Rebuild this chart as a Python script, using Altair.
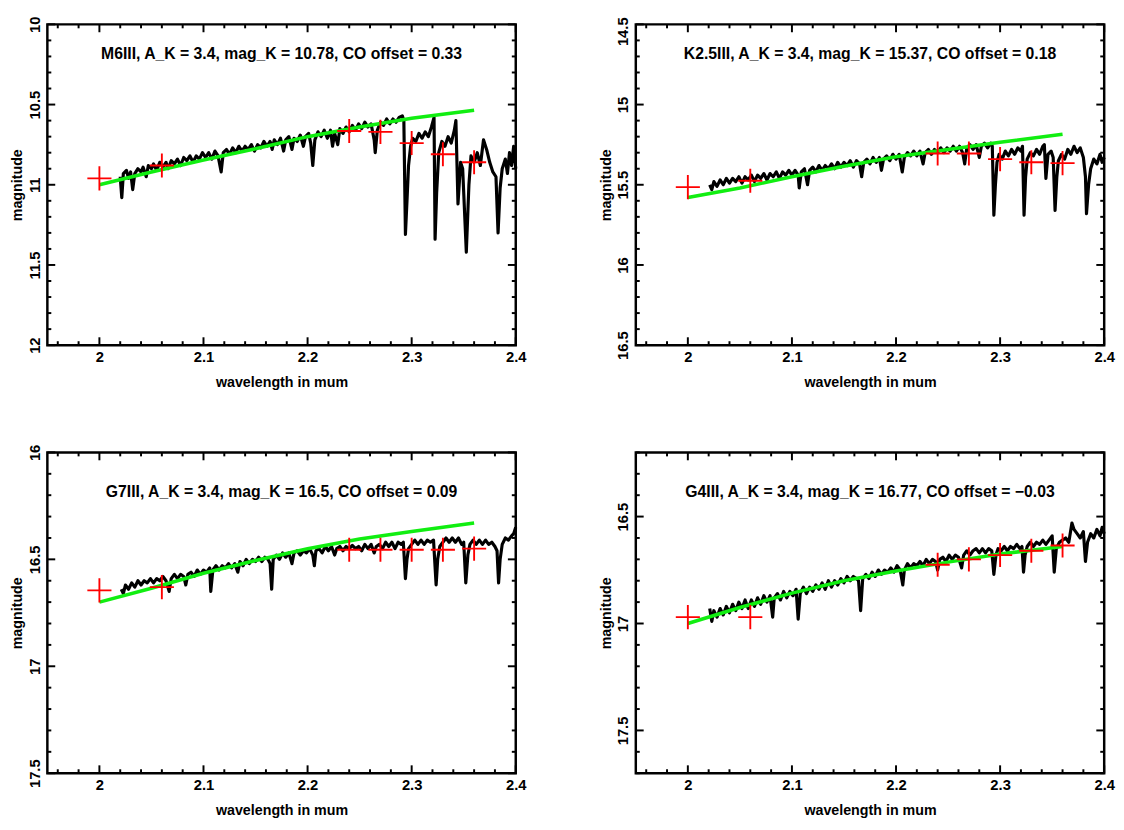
import altair as alt
import pandas as pd

FONT = "Liberation Sans"
W, H = 476, 326
GREEN = "#11ee11"

titles = [
    "M6III, A_K = 3.4, mag_K = 10.78, CO offset = 0.33",
    "K2.5III, A_K = 3.4, mag_K = 15.37, CO offset = 0.18",
    "G7III, A_K = 3.4, mag_K = 16.5, CO offset = 0.09",
    "G4III, A_K = 3.4, mag_K = 16.77, CO offset = \u22120.03",
]
y_domains = [(10.0, 12.0), (14.5, 16.5), (16.0, 17.5), (16.2, 17.7)]

# photometric points (red crosses)
phot_wl = [2.0, 2.06, 2.24, 2.27, 2.30, 2.33, 2.36]
phot1 = [10.96, 10.88, 10.665, 10.67, 10.74, 10.81, 10.86]
phot2 = [15.515, 15.475, 15.305, 15.305, 15.34, 15.36, 15.365]
phot3 = [16.645, 16.63, 16.455, 16.455, 16.455, 16.455, 16.45]
phot4 = [16.97, 16.97, 16.725, 16.70, 16.68, 16.66, 16.635]

# model (green line)
model_wl = [2.0, 2.05, 2.1, 2.15, 2.2, 2.25, 2.3, 2.36]
model1 = [11.00, 10.92, 10.845, 10.775, 10.70, 10.64, 10.585, 10.535]
model2 = [15.58, 15.52, 15.45, 15.385, 15.325, 15.28, 15.235, 15.185]
model3 = [16.70, 16.635, 16.565, 16.505, 16.45, 16.405, 16.37, 16.33]
model4 = [17.00, 16.925, 16.858, 16.80, 16.755, 16.713, 16.675, 16.64]

# observed spectra (wavelength, magnitude)
spec1 = [
    (2.020, 10.95), (2.0215, 11.08), (2.023, 10.93), (2.026, 10.91), (2.028, 10.96), (2.030, 10.92),
    (2.032, 11.03), (2.034, 10.93), (2.037, 10.90), (2.040, 10.92), (2.042, 10.89), (2.045, 10.95),
    (2.047, 10.88), (2.050, 10.90), (2.052, 10.87), (2.055, 10.91), (2.058, 10.86), (2.061, 10.89),
    (2.064, 10.86), (2.066, 10.90), (2.069, 10.85), (2.072, 10.87), (2.075, 10.84), (2.078, 10.88),
    (2.081, 10.83), (2.084, 10.85), (2.087, 10.82), (2.090, 10.86), (2.093, 10.82), (2.096, 10.84),
    (2.099, 10.80), (2.102, 10.83), (2.105, 10.80), (2.108, 10.84), (2.111, 10.79), (2.114, 10.82),
    (2.117, 10.92), (2.119, 10.80), (2.122, 10.78), (2.125, 10.81), (2.128, 10.77), (2.131, 10.80),
    (2.134, 10.76), (2.137, 10.79), (2.140, 10.76), (2.143, 10.78), (2.146, 10.75), (2.149, 10.79),
    (2.152, 10.75), (2.155, 10.77), (2.158, 10.73), (2.161, 10.76), (2.164, 10.73), (2.166, 10.78),
    (2.168, 10.72), (2.171, 10.75), (2.174, 10.71), (2.177, 10.79), (2.179, 10.72), (2.182, 10.70),
    (2.185, 10.78), (2.187, 10.71), (2.190, 10.73), (2.193, 10.69), (2.196, 10.76), (2.198, 10.70),
    (2.201, 10.68), (2.203, 10.74), (2.205, 10.88), (2.207, 10.72), (2.210, 10.67), (2.213, 10.70),
    (2.216, 10.66), (2.219, 10.71), (2.222, 10.66), (2.224, 10.76), (2.226, 10.68), (2.229, 10.75),
    (2.231, 10.65), (2.234, 10.68), (2.237, 10.64), (2.240, 10.67), (2.243, 10.63), (2.246, 10.66),
    (2.249, 10.62), (2.252, 10.65), (2.255, 10.61), (2.258, 10.64), (2.261, 10.62), (2.264, 10.72),
    (2.265, 10.80), (2.267, 10.66), (2.270, 10.61), (2.273, 10.63), (2.276, 10.59), (2.279, 10.62),
    (2.282, 10.59), (2.285, 10.61), (2.288, 10.58), (2.291, 10.57), (2.2925, 10.60), (2.294, 11.31),
    (2.2955, 11.10), (2.297, 10.88), (2.299, 10.76), (2.301, 10.71), (2.304, 10.73), (2.307, 10.68),
    (2.310, 10.71), (2.313, 10.67), (2.316, 10.70), (2.319, 10.64), (2.3215, 10.58), (2.3225, 11.34),
    (2.324, 11.05), (2.326, 10.80), (2.329, 10.73), (2.332, 10.76), (2.335, 10.70), (2.338, 10.74),
    (2.341, 10.66), (2.3425, 10.60), (2.3445, 11.12), (2.347, 10.86), (2.349, 10.90), (2.3525, 11.42),
    (2.355, 11.00), (2.357, 10.82), (2.360, 10.86), (2.363, 10.80), (2.366, 10.88), (2.369, 10.72),
    (2.372, 10.78), (2.375, 10.86), (2.378, 10.92), (2.381, 10.95), (2.383, 11.30), (2.385, 11.02),
    (2.387, 10.90), (2.390, 10.84), (2.392, 10.93), (2.394, 10.80), (2.396, 10.88), (2.398, 10.76),
    (2.400, 10.90),
]
spec2 = [
    (2.021, 15.50), (2.023, 15.53), (2.025, 15.48), (2.028, 15.51), (2.031, 15.47), (2.034, 15.50),
    (2.037, 15.46), (2.040, 15.49), (2.043, 15.46), (2.046, 15.48), (2.049, 15.45), (2.052, 15.49),
    (2.055, 15.45), (2.058, 15.47), (2.061, 15.44), (2.064, 15.48), (2.067, 15.44), (2.070, 15.46),
    (2.073, 15.43), (2.076, 15.47), (2.079, 15.43), (2.082, 15.45), (2.085, 15.42), (2.088, 15.46),
    (2.091, 15.42), (2.094, 15.44), (2.097, 15.41), (2.100, 15.44), (2.103, 15.41), (2.106, 15.44),
    (2.107, 15.52), (2.109, 15.42), (2.112, 15.40), (2.115, 15.50), (2.117, 15.41), (2.120, 15.39),
    (2.123, 15.42), (2.126, 15.38), (2.129, 15.41), (2.132, 15.38), (2.135, 15.40), (2.138, 15.37),
    (2.141, 15.40), (2.144, 15.36), (2.147, 15.39), (2.150, 15.36), (2.153, 15.38), (2.156, 15.35),
    (2.159, 15.39), (2.162, 15.35), (2.165, 15.37), (2.167, 15.45), (2.169, 15.36), (2.172, 15.34),
    (2.175, 15.37), (2.178, 15.33), (2.181, 15.36), (2.184, 15.33), (2.186, 15.41), (2.188, 15.34),
    (2.191, 15.32), (2.194, 15.35), (2.197, 15.31), (2.200, 15.34), (2.203, 15.31), (2.206, 15.42),
    (2.208, 15.33), (2.211, 15.30), (2.214, 15.32), (2.217, 15.29), (2.220, 15.32), (2.223, 15.29),
    (2.226, 15.37), (2.228, 15.30), (2.231, 15.28), (2.234, 15.31), (2.237, 15.28), (2.240, 15.30),
    (2.243, 15.27), (2.246, 15.30), (2.249, 15.27), (2.252, 15.29), (2.255, 15.26), (2.258, 15.29),
    (2.261, 15.26), (2.264, 15.30), (2.266, 15.37), (2.268, 15.27), (2.271, 15.25), (2.274, 15.28),
    (2.277, 15.25), (2.280, 15.33), (2.282, 15.26), (2.285, 15.24), (2.288, 15.27), (2.291, 15.24),
    (2.2925, 15.26), (2.294, 15.69), (2.2955, 15.50), (2.297, 15.36), (2.299, 15.31), (2.302, 15.34),
    (2.305, 15.29), (2.308, 15.32), (2.311, 15.28), (2.314, 15.31), (2.317, 15.27), (2.320, 15.29),
    (2.3215, 15.26), (2.323, 15.69), (2.3245, 15.45), (2.326, 15.34), (2.329, 15.30), (2.332, 15.32),
    (2.335, 15.28), (2.338, 15.31), (2.341, 15.26), (2.3425, 15.25), (2.344, 15.46), (2.346, 15.31),
    (2.349, 15.29), (2.351, 15.33), (2.3528, 15.66), (2.3545, 15.45), (2.356, 15.35), (2.359, 15.31),
    (2.362, 15.34), (2.365, 15.28), (2.368, 15.31), (2.371, 15.26), (2.374, 15.30), (2.377, 15.27),
    (2.380, 15.33), (2.382, 15.45), (2.383, 15.68), (2.385, 15.50), (2.387, 15.40), (2.390, 15.34),
    (2.393, 15.37), (2.396, 15.31), (2.398, 15.36), (2.400, 15.33),
]
spec3 = [
    (2.021, 16.64), (2.023, 16.66), (2.025, 16.62), (2.028, 16.64), (2.031, 16.61), (2.034, 16.63),
    (2.037, 16.60), (2.040, 16.62), (2.043, 16.60), (2.046, 16.61), (2.049, 16.59), (2.052, 16.61),
    (2.055, 16.59), (2.058, 16.60), (2.061, 16.58), (2.064, 16.60), (2.067, 16.65), (2.069, 16.59),
    (2.072, 16.57), (2.075, 16.59), (2.078, 16.57), (2.081, 16.58), (2.083, 16.62), (2.085, 16.57),
    (2.088, 16.56), (2.091, 16.58), (2.094, 16.55), (2.097, 16.57), (2.100, 16.55), (2.103, 16.56),
    (2.106, 16.54), (2.107, 16.65), (2.109, 16.55), (2.112, 16.53), (2.115, 16.55), (2.118, 16.53),
    (2.121, 16.54), (2.124, 16.52), (2.127, 16.54), (2.130, 16.52), (2.133, 16.56), (2.135, 16.51),
    (2.138, 16.53), (2.141, 16.50), (2.144, 16.52), (2.147, 16.50), (2.150, 16.51), (2.153, 16.49),
    (2.156, 16.51), (2.159, 16.49), (2.162, 16.50), (2.164, 16.52), (2.1655, 16.64), (2.167, 16.50),
    (2.170, 16.48), (2.173, 16.50), (2.176, 16.47), (2.179, 16.49), (2.182, 16.47), (2.185, 16.52),
    (2.187, 16.47), (2.190, 16.46), (2.193, 16.48), (2.196, 16.46), (2.199, 16.47), (2.202, 16.45),
    (2.205, 16.48), (2.2065, 16.53), (2.208, 16.46), (2.211, 16.45), (2.214, 16.47), (2.217, 16.44),
    (2.220, 16.46), (2.223, 16.44), (2.226, 16.48), (2.228, 16.45), (2.231, 16.44), (2.234, 16.46),
    (2.237, 16.44), (2.240, 16.45), (2.243, 16.435), (2.246, 16.45), (2.249, 16.44), (2.252, 16.46),
    (2.255, 16.43), (2.258, 16.45), (2.261, 16.43), (2.264, 16.47), (2.266, 16.44), (2.269, 16.43),
    (2.272, 16.45), (2.275, 16.42), (2.278, 16.44), (2.281, 16.42), (2.284, 16.45), (2.287, 16.42),
    (2.290, 16.43), (2.292, 16.42), (2.294, 16.59), (2.2955, 16.50), (2.297, 16.45), (2.300, 16.43),
    (2.303, 16.41), (2.306, 16.43), (2.309, 16.41), (2.312, 16.43), (2.315, 16.41), (2.318, 16.42),
    (2.321, 16.41), (2.3235, 16.62), (2.325, 16.50), (2.327, 16.44), (2.330, 16.42), (2.333, 16.40),
    (2.336, 16.42), (2.339, 16.40), (2.342, 16.42), (2.345, 16.40), (2.348, 16.43), (2.350, 16.42),
    (2.352, 16.61), (2.354, 16.48), (2.356, 16.43), (2.359, 16.41), (2.362, 16.43), (2.365, 16.41),
    (2.368, 16.43), (2.371, 16.41), (2.374, 16.43), (2.377, 16.42), (2.380, 16.44), (2.382, 16.46),
    (2.3835, 16.61), (2.385, 16.50), (2.387, 16.43), (2.390, 16.40), (2.393, 16.41), (2.396, 16.39),
    (2.398, 16.38), (2.400, 16.35),
]
spec4 = [
    (2.021, 16.93), (2.023, 16.99), (2.025, 16.94), (2.028, 16.97), (2.031, 16.93), (2.034, 16.96),
    (2.037, 16.92), (2.040, 16.95), (2.043, 16.91), (2.046, 16.94), (2.049, 16.90), (2.052, 16.93),
    (2.055, 16.89), (2.058, 16.93), (2.061, 16.89), (2.064, 16.92), (2.067, 16.88), (2.070, 16.91),
    (2.073, 16.87), (2.076, 16.90), (2.079, 16.87), (2.0815, 16.97), (2.083, 16.88), (2.086, 16.86),
    (2.089, 16.89), (2.092, 16.85), (2.095, 16.88), (2.098, 16.85), (2.101, 16.87), (2.104, 16.84),
    (2.106, 16.98), (2.108, 16.86), (2.111, 16.83), (2.114, 16.86), (2.117, 16.83), (2.120, 16.85),
    (2.123, 16.82), (2.126, 16.84), (2.129, 16.81), (2.132, 16.84), (2.135, 16.80), (2.138, 16.83),
    (2.141, 16.80), (2.144, 16.82), (2.147, 16.79), (2.150, 16.81), (2.153, 16.78), (2.156, 16.80),
    (2.159, 16.78), (2.162, 16.79), (2.164, 16.80), (2.166, 16.94), (2.168, 16.79), (2.171, 16.77),
    (2.174, 16.79), (2.177, 16.76), (2.180, 16.78), (2.183, 16.75), (2.186, 16.77), (2.189, 16.75),
    (2.192, 16.76), (2.195, 16.74), (2.198, 16.76), (2.201, 16.73), (2.204, 16.75), (2.2065, 16.82),
    (2.208, 16.75), (2.211, 16.72), (2.214, 16.74), (2.217, 16.72), (2.220, 16.73), (2.223, 16.71),
    (2.226, 16.73), (2.229, 16.70), (2.232, 16.72), (2.235, 16.70), (2.238, 16.71), (2.240, 16.75),
    (2.242, 16.70), (2.245, 16.69), (2.248, 16.71), (2.251, 16.68), (2.254, 16.70), (2.257, 16.68),
    (2.260, 16.69), (2.263, 16.74), (2.265, 16.68), (2.268, 16.66), (2.271, 16.68), (2.274, 16.66),
    (2.277, 16.65), (2.280, 16.67), (2.283, 16.65), (2.286, 16.67), (2.289, 16.65), (2.292, 16.66),
    (2.294, 16.77), (2.296, 16.68), (2.298, 16.65), (2.301, 16.66), (2.304, 16.64), (2.307, 16.66),
    (2.310, 16.64), (2.313, 16.65), (2.316, 16.63), (2.319, 16.65), (2.321, 16.64), (2.3225, 16.76),
    (2.324, 16.68), (2.326, 16.64), (2.329, 16.62), (2.332, 16.64), (2.335, 16.62), (2.338, 16.63),
    (2.341, 16.61), (2.344, 16.63), (2.347, 16.61), (2.350, 16.59), (2.352, 16.76), (2.354, 16.65),
    (2.357, 16.62), (2.360, 16.61), (2.363, 16.60), (2.366, 16.62), (2.369, 16.53), (2.371, 16.56),
    (2.374, 16.58), (2.377, 16.60), (2.380, 16.57), (2.382, 16.71), (2.384, 16.62), (2.387, 16.58),
    (2.390, 16.60), (2.393, 16.56), (2.396, 16.59), (2.398, 16.55), (2.400, 16.58),
]

x_major = [2.0, 2.1, 2.2, 2.3, 2.4]
x_minor = [round(1.96 + 0.02 * i, 2) for i in range(22)]
x_minor = [v for v in x_minor if round(v * 10, 6) % 1 != 0]

X_DOMAIN = [1.95, 2.4]


def y_ticks(dom):
    lo, hi = dom
    n = int(round((hi - lo) / 0.1))
    allv = [round(lo + 0.1 * i, 2) for i in range(n + 1)]
    major = [v for v in allv if abs(v * 2 - round(v * 2)) < 1e-6]
    minor = [v for v in allv if v not in major]
    return major, minor


def panel(spec, model, phot, dom, title, text_y, top_label_offset=False):
    major_y, minor_y = y_ticks(dom)
    xsc = alt.Scale(domain=X_DOMAIN, nice=False, zero=False)
    ysc = alt.Scale(domain=list(dom), nice=False, zero=False, reverse=True)

    ykw = dict(
        title="magnitude", values=major_y, format="~g", labelAngle=270,
        labelAlign="center", labelBaseline="bottom", labelPadding=5, titlePadding=3,
        ticks=False, domain=False, grid=False, labelOverlap=False,
    )
    if top_label_offset:
        ykw["labelOffset"] = {"condition": {"test": f"datum.value == {dom[0]}", "value": 7}, "value": 0}
    yaxis = alt.Axis(**ykw)
    xaxis = alt.Axis(
        title="wavelength in mum", values=x_major, format="~g", labelFlush=False,
        labelPadding=5, titlePadding=11, ticks=False, domain=False,
        grid=False, labelOverlap=False,
    )

    def X(field):
        return alt.X(field, scale=xsc, axis=xaxis)

    def Y(field):
        return alt.Y(field, scale=ysc, axis=yaxis)

    sdf = pd.DataFrame(spec, columns=["wl", "mag"])
    mdf = pd.DataFrame({"wl": model_wl, "mag": model})
    pdf = pd.DataFrame({"wl": phot_wl, "mag": phot})

    spec_line = alt.Chart(sdf).mark_line(
        color="black", strokeWidth=3.2, strokeJoin="round"
    ).encode(x=X("wl:Q"), y=Y("mag:Q"), order="wl:Q")
    model_line = alt.Chart(mdf).mark_line(color=GREEN, strokeWidth=3.6).encode(
        x=X("wl:Q"), y=Y("mag:Q"),
    )
    crosses = alt.Chart(pdf).mark_point(
        shape="M-1,0L1,0M0,-1L0,1", size=600, filled=False, color="#ff0000",
        strokeWidth=1.9, opacity=1,
    ).encode(x=X("wl:Q"), y=Y("mag:Q"))

    def xt(vals, length, side):
        d = pd.DataFrame({"wl": vals})
        y0, y1 = (H, H - length) if side == "bottom" else (0, length)
        return alt.Chart(d).mark_rule(color="black", strokeWidth=2).encode(
            x=X("wl:Q"), y=alt.value(y0), y2=alt.value(y1)
        )

    def yt(vals, length, side):
        d = pd.DataFrame({"mag": vals})
        x0, x1 = (0, length) if side == "left" else (W, W - length)
        return alt.Chart(d).mark_rule(color="black", strokeWidth=2).encode(
            y=Y("mag:Q"), x=alt.value(x0), x2=alt.value(x1)
        )

    tick_layers = [
        xt(x_major, 8, "bottom"), xt(x_major, 8, "top"),
        xt(x_minor, 4, "bottom"), xt(x_minor, 4, "top"),
        yt(major_y, 8, "left"), yt(major_y, 8, "right"),
        yt(minor_y, 4, "left"), yt(minor_y, 4, "right"),
    ]

    label = alt.Chart(pd.DataFrame({"t": [title]})).mark_text(
        font=FONT, fontSize=16, fontWeight="bold", color="black", baseline="middle",
        align="center",
    ).encode(text="t:N", x=alt.value(W / 2), y=alt.value(text_y))

    return alt.layer(spec_line, model_line, crosses, *tick_layers, label).properties(
        width=W, height=H
    )


p1 = panel(spec1, model1, phot1, y_domains[0], titles[0], 30)
p2 = panel(spec2, model2, phot2, y_domains[1], titles[1], 30, top_label_offset=True)
p3 = panel(spec3, model3, phot3, y_domains[2], titles[2], 40)
p4 = panel(spec4, model4, phot4, y_domains[3], titles[3], 40)

row1 = alt.hconcat(p1, p2, spacing=70)
row2 = alt.hconcat(p3, p4, spacing=70)
chart = alt.vconcat(row1, row2, spacing=53).properties(
    padding={"left": 0, "top": 0, "right": 0, "bottom": 0},
    background="white",
).configure_view(
    stroke="black", strokeWidth=2.5
).configure_axis(
    labelFont=FONT, labelFontSize=15, labelFontWeight="bold", labelColor="black",
    titleFont=FONT, titleFontSize=14.5, titleFontWeight="bold", titleColor="black",
)

chart.save("out.html", embed_options={"renderer": "svg", "actions": False})
